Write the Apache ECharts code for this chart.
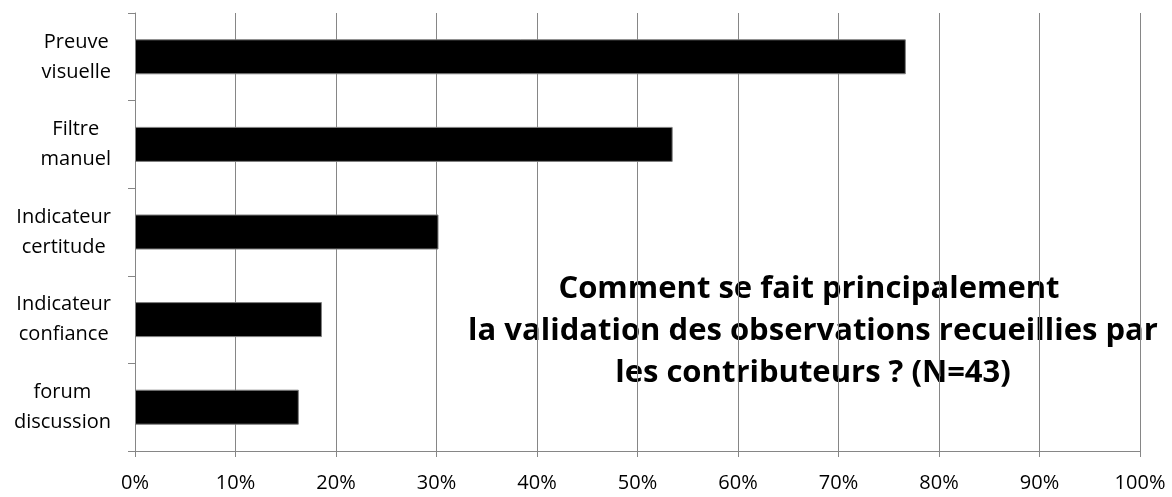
<!DOCTYPE html>
<html>
<head>
<meta charset="utf-8">
<script src="https://cdn.jsdelivr.net/npm/echarts@6/dist/echarts.min.js"></script>
<style>
  html, body { margin: 0; padding: 0; background: #fff; }
  #chart { width: 1172px; height: 497px; }
</style>
</head>
<body>
<div id="chart"></div>
<script>
// catégories (de haut en bas) et pourcentages
const categories = ['Preuve\nvisuelle', 'Filtre\nmanuel', 'Indicateur\ncertitude', 'Indicateur\nconfiance', 'forum\ndiscussion'];
const values = [76.7, 53.5, 30.2, 18.6, 16.3];
const titleLines = ['Comment se fait principalement ', 'la validation des observations recueillies par', 'les contributeurs ? (N=43)'];

const gridColor = '#868686';
const fontFamily = '"Open Sans", sans-serif';

let chart = echarts.init(document.getElementById('chart'));
chart.setOption({
  animation: false,
  grid: { left: 135, right: 32, top: 13, bottom: 46 },
  xAxis: {
    type: 'value',
    min: 0,
    max: 100,
    interval: 10,
    axisLine: { show: true, lineStyle: { color: gridColor, width: 1 } },
    axisTick: { show: true, length: 6, lineStyle: { color: gridColor } },
    splitLine: { show: true, lineStyle: { color: gridColor, width: 1 } },
    axisLabel: {
      formatter: '{value}%',
      color: '#000',
      fontSize: 20,
      fontFamily: fontFamily,
      margin: 22
    }
  },
  yAxis: {
    type: 'category',
    inverse: true,
    data: categories,
    axisLine: { show: true, lineStyle: { color: gridColor, width: 1 } },
    axisTick: { show: true, length: 7, lineStyle: { color: gridColor } },
    axisLabel: {
      // bloc aligné à droite, lignes centrées entre elles
      formatter: function (val) {
        return val.split('\n').map(function (l) { return '{c|' + l + '}'; }).join('\n');
      },
      align: 'right',
      margin: 24,
      rich: {
        c: {
          align: 'center',
          color: '#000',
          fontSize: 20,
          lineHeight: 30,
          fontFamily: fontFamily
        }
      }
    }
  },
  series: [{
    type: 'bar',
    data: values,
    barWidth: 35,
    itemStyle: { color: '#000', borderColor: '#7f7f7f', borderWidth: 1 }
  }],
  graphic: [{
    type: 'text',
    x: 813,
    y: 268,
    style: {
      text: titleLines.join('\n'),
      textAlign: 'center',
      fill: '#000',
      font: 'bold 31px ' + fontFamily,
      lineHeight: 42
    }
  }]
});
</script>
</body>
</html>
